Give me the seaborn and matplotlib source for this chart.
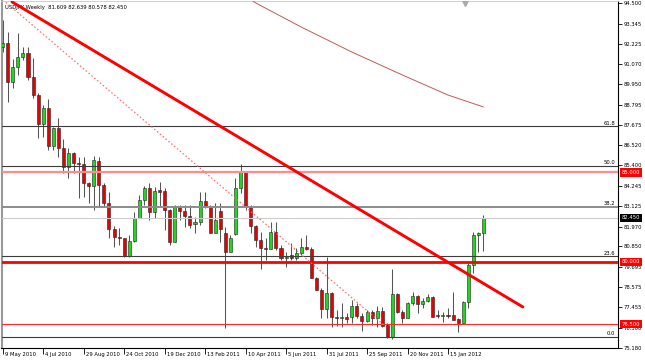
import matplotlib
matplotlib.use("Agg")
import numpy as np
import pandas as pd
import matplotlib.pyplot as plt
import seaborn as sns
from matplotlib import transforms

# ---------------- data (weekly USDJPY, week 0 = 9 May 2010) ----------------
weeks = list(range(96))
opens = [92.02, 92.27, 90.05, 90.90, 91.49, 91.68, 90.34, 89.34, 87.70, 88.63,
         86.48, 87.48, 86.36, 85.32, 86.11, 85.55, 85.48, 84.43, 84.26, 85.64,
         84.30, 83.31, 81.85, 81.38, 81.30, 80.32, 81.16, 82.47, 83.46, 84.15,
         82.77, 84.02, 83.96, 82.90, 81.12, 83.05, 82.86, 82.58, 82.11, 82.24,
         83.42, 83.08, 81.62, 82.86, 81.62, 80.56, 81.55, 84.11, 85.04, 83.05,
         82.00, 81.21, 80.75, 80.71, 81.68, 80.78, 80.19, 80.37, 80.19, 80.47,
         80.84, 80.69, 79.07, 78.41, 77.33, 78.26, 76.92, 76.83, 76.88, 76.88,
         77.52, 76.97, 76.67, 77.20, 76.83, 77.24, 76.45, 75.79, 78.17, 77.16,
         76.86, 77.70, 78.09, 77.63, 77.81, 78.04, 76.97, 76.96, 76.97, 77.01,
         76.77, 76.58, 77.72, 79.81, 81.49, 81.609]
highs = [93.55, 92.89, 91.34, 92.80, 92.05, 92.05, 91.40, 89.45, 88.78, 89.10,
         87.57, 88.07, 86.86, 86.36, 86.17, 85.88, 85.88, 84.48, 85.92, 85.88,
         84.43, 83.92, 82.00, 81.89, 81.33, 81.50, 82.80, 83.74, 84.24, 84.39,
         84.20, 84.48, 84.11, 82.95, 83.18, 83.18, 83.18, 83.18, 82.52, 83.92,
         83.92, 83.18, 83.27, 83.29, 81.96, 81.50, 84.67, 85.49, 85.08, 83.18,
         82.06, 81.68, 81.31, 82.24, 82.24, 80.94, 80.56, 81.03, 80.75, 81.31,
         81.50, 80.84, 79.16, 78.51, 80.28, 78.30, 77.29, 77.70, 77.11, 77.85,
         77.67, 77.11, 77.29, 77.29, 77.52, 77.48, 76.55, 79.59, 78.23, 77.29,
         77.76, 78.32, 78.13, 77.95, 78.19, 78.08, 77.29, 77.20, 77.39, 78.32,
         76.83, 77.81, 79.90, 81.68, 81.68, 82.639]
lows = [91.75, 88.97, 89.72, 90.46, 91.30, 90.18, 89.16, 86.92, 87.01, 86.26,
        86.26, 85.88, 84.95, 84.67, 84.95, 83.55, 83.64, 83.31, 82.90, 83.08,
        83.08, 81.33, 80.84, 80.94, 80.25, 80.26, 81.10, 82.43, 83.18, 82.34,
        82.43, 83.08, 81.78, 80.94, 81.10, 82.34, 81.96, 81.87, 81.59, 82.06,
        82.99, 81.59, 81.59, 81.12, 76.28, 80.54, 81.50, 83.85, 82.90, 81.59,
        80.84, 79.57, 80.09, 80.69, 80.65, 80.09, 79.72, 80.09, 80.09, 80.37,
        80.65, 79.07, 78.41, 76.83, 76.83, 76.35, 76.39, 76.35, 76.55, 76.55,
        76.83, 76.11, 76.64, 76.45, 76.35, 76.35, 75.70, 75.65, 77.11, 76.55,
        76.83, 77.57, 77.11, 77.39, 77.76, 76.92, 76.86, 76.64, 76.83, 76.73,
        76.07, 76.55, 77.39, 79.35, 80.56, 80.578]
closes = [92.24, 90.09, 90.90, 91.49, 91.68, 90.37, 89.34, 87.70, 88.63, 86.48,
          87.48, 86.36, 85.32, 86.11, 85.55, 85.48, 84.43, 84.26, 85.70, 84.30,
          83.31, 81.85, 81.36, 81.30, 80.32, 81.16, 82.47, 83.46, 84.15, 82.77,
          83.96, 83.92, 82.90, 81.12, 83.05, 82.86, 82.58, 82.06, 82.24, 83.42,
          83.08, 81.62, 82.34, 81.83, 80.56, 81.31, 84.11, 85.04, 83.05, 82.00,
          81.21, 80.75, 80.73, 81.68, 80.78, 80.19, 80.28, 80.19, 80.47, 80.84,
          80.69, 79.07, 78.41, 77.33, 78.26, 76.92, 76.83, 76.88, 76.80, 77.52,
          76.96, 76.67, 77.20, 76.83, 77.24, 76.41, 75.79, 78.17, 77.16, 76.86,
          77.70, 78.09, 77.63, 77.81, 78.04, 76.92, 76.96, 76.97, 76.96, 76.73,
          76.58, 77.72, 79.81, 81.49, 81.62, 82.450]

date_tick_weeks = [0, 8, 16, 24, 32, 40, 48, 56, 64, 72, 80, 88]
date_tick_labels = ["9 May 2010", "4 Jul 2010", "29 Aug 2010", "24 Oct 2010",
                    "19 Dec 2010", "13 Feb 2011", "10 Apr 2011", "5 Jun 2011",
                    "31 Jul 2011", "25 Sep 2011", "20 Nov 2011", "15 Jan 2012"]
price_ticks = [94.500, 93.345, 92.225, 91.070, 89.950, 88.795, 87.675, 86.520,
               85.400, 84.245, 83.125, 81.970, 80.850, 79.695, 78.575, 77.455,
               76.300, 75.180]

fib_labels = ["0.0", "23.6", "38.2", "50.0", "61.8"]
fib_prices = [75.80, 80.30, 83.08, 85.36, 87.59]
level_prices = [85.000, 80.000, 76.500]
level_texts = ["85.000", "80.000", "76.500"]
last_price = 82.450
last_text = "82.450"

trend_weeks = [1.84, 102.8]
trend_prices = [94.56, 77.46]
dotted_weeks = [0.06, 75.55]
dotted_prices = [94.67, 76.39]
ma_weeks = [49, 50, 59, 69, 79, 88, 95]
ma_prices = [94.70, 94.50, 93.15, 91.75, 90.46, 89.34, 88.67]
marker_week = [91.4]
marker_price = [94.52]

title = "USDJPY,Weekly  81.609 82.639 80.578 82.450"

# ---------------- style ----------------
sns.set_style("white")
plt.rcParams["font.family"] = ["DejaVu Sans"]
FS = 3.8

fig = plt.figure(figsize=(6.45, 3.61), dpi=100, facecolor="white")
W, H = 645.0, 361.0
left_px, right_px, top_px, bot_px = 1.5, 618.0, 1.0, 348.0
ax = fig.add_axes([left_px / W, 1 - bot_px / H, (right_px - left_px) / W,
                   (bot_px - top_px) / H])
ax.set_facecolor("white")

df = pd.DataFrame({"week": weeks, "open": opens, "high": highs,
                   "low": lows, "close": closes})
up = df["close"] >= df["open"]
body_bottom = np.minimum(df["open"], df["close"])
body_height = np.maximum((df["close"] - df["open"]).abs(), 0.035)
body_colors = np.where(up, "#1ed81e", "#e80000")

ax.vlines(df["week"], df["low"], df["high"], color="#555555", lw=0.75, zorder=2)
ax.bar(df["week"], body_height, bottom=body_bottom, width=0.6,
       color=body_colors, edgecolor="#222222", linewidth=0.4, zorder=3)

# horizontal levels
for lbl, p in zip(fib_labels, fib_prices):
    if lbl == "38.2":
        ax.axhline(p, color="#8c8c8c", lw=1.4, zorder=4)
    else:
        ax.axhline(p, color="#3c3c3c", lw=0.8, zorder=4)
ax.axhline(last_price, color="#cccccc", lw=0.8, zorder=4)
ax.axhline(level_prices[0], color="#ff8c8c", lw=1.6, zorder=4)
ax.axhline(level_prices[1], color="#ff0000", lw=2.0, zorder=4)
ax.axhline(level_prices[2], color="#ff2a2a", lw=0.8, zorder=4)

# trend lines and moving average
sns.lineplot(x=trend_weeks, y=trend_prices, color="#ff0000", lw=2.1,
             ax=ax, zorder=6, sort=False)
ax.plot(dotted_weeks, dotted_prices, color="#ff6a6a", lw=0.9,
        linestyle=(0, (1.2, 1.8)), zorder=5)
sns.lineplot(x=ma_weeks, y=ma_prices, color="#bf5a5a", lw=0.7, ax=ax,
             zorder=5, sort=False)
ax.plot(marker_week, marker_price, marker="v", color="#aaaaaa", ms=4,
        linestyle="none", zorder=6)

ax.set_xlim(-0.24, 121.6)
ax.set_ylim(75.16, 94.61)

# axes ticks
ax.yaxis.tick_right()
ax.set_yticks(price_ticks)
ax.set_yticklabels([f"{v:.3f}" for v in price_ticks])
ax.tick_params(axis="y", length=3, width=0.6, pad=1.2, labelsize=FS,
               colors="black", right=True, left=False)
ax.set_xticks(date_tick_weeks)
ax.set_xticklabels(date_tick_labels)
ax.tick_params(axis="x", length=4, width=0.6, pad=-1.3, labelsize=FS,
               colors="black", bottom=True, direction="out")
shift = transforms.ScaledTranslation(2.0 / 100, 0, fig.dpi_scale_trans)
for t in ax.get_xticklabels():
    t.set_horizontalalignment("left")
    t.set_transform(t.get_transform() + shift)

for s in ["right", "bottom"]:
    ax.spines[s].set_color("black")
    ax.spines[s].set_linewidth(0.8)
ax.spines["left"].set_color("#999999")
ax.spines["left"].set_linewidth(1.5)
ax.spines["top"].set_color("#c8c8c8")
ax.spines["top"].set_linewidth(0.6)

blend = transforms.blended_transform_factory(ax.transAxes, ax.transData)
for lbl, p in zip(fib_labels, fib_prices):
    ax.text(0.9952, p + 0.04, lbl, transform=blend, ha="right", va="bottom",
            fontsize=FS, color="black", zorder=7)

for txt, p in zip(level_texts, level_prices):
    ax.text(1.0 + 3.5 / 616.5, p, txt, transform=blend, ha="left", va="center",
            fontsize=FS, color="white", zorder=10, clip_on=False,
            bbox=dict(boxstyle="square,pad=0.3", fc="#ff0000", ec="none"))
ax.text(1.0 + 3.5 / 616.5, last_price, last_text, transform=blend, ha="left",
        va="center", fontsize=FS, color="white", zorder=10, clip_on=False,
        bbox=dict(boxstyle="square,pad=0.3", fc="black", ec="none"))

ax.text(0.006, 0.988, title, transform=ax.transAxes, ha="left", va="top",
        fontsize=FS, color="black", zorder=1)

fig.savefig("out.png", dpi=100, facecolor="white")
